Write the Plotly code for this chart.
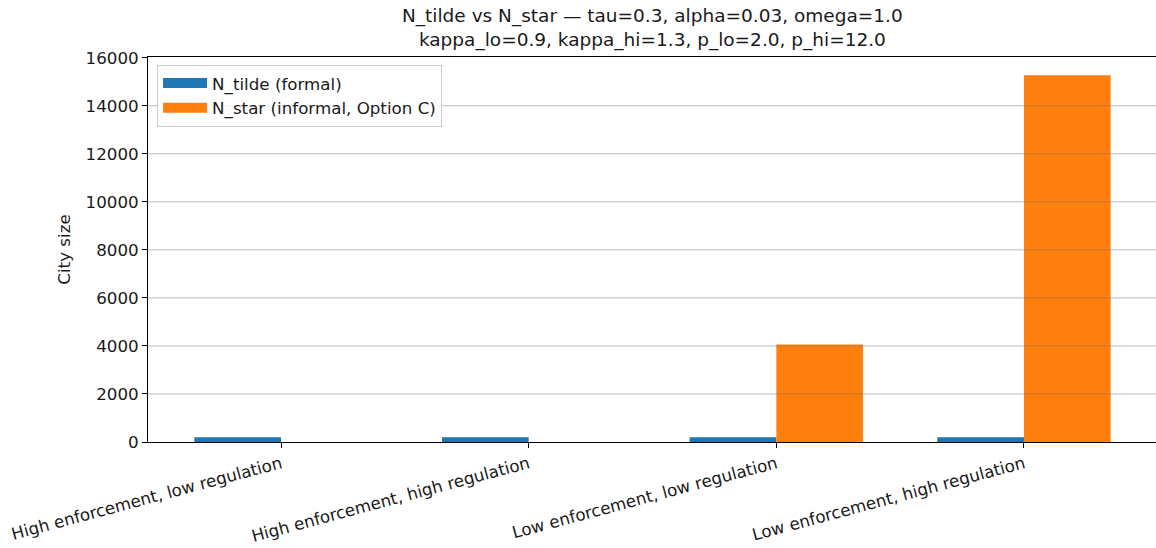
import plotly.graph_objects as go

# Scenario categories and city sizes
categories = [
    "High enforcement, low regulation",
    "High enforcement, high regulation",
    "Low enforcement, low regulation",
    "Low enforcement, high regulation",
]
n_tilde = [195, 195, 195, 195]
n_star = [0, 0, 4060, 15270]
y_ticks = [0, 2000, 4000, 6000, 8000, 10000, 12000, 14000, 16000]

FONT = "DejaVu Sans"
FS = 16.7
TXT = "#1a1a1a"
BLUE = "#1f77b4"
ORANGE = "#ff7f0e"
x_pos = list(range(len(categories)))

fig = go.Figure()
fig.add_trace(go.Bar(x=x_pos, y=n_tilde, name="N_tilde (formal)", showlegend=False,
                     marker=dict(color=BLUE, line=dict(width=0))))
fig.add_trace(go.Bar(x=x_pos, y=n_star, name="N_star (informal, Option C)", showlegend=False,
                     marker=dict(color=ORANGE, line=dict(width=0))))

# rectangular legend keys
for name, color in [("N_tilde (formal)", BLUE), ("N_star (informal, Option C)", ORANGE)]:
    fig.add_trace(go.Scatter(x=[None], y=[None], mode="lines", name=name,
                             line=dict(color=color, width=11), showlegend=True))

# horizontal grid drawn over the bars
for v in y_ticks[1:-1]:
    fig.add_shape(type="line", xref="paper", yref="y", x0=0, x1=1, y0=v, y1=v,
                  line=dict(color="rgba(110,110,110,0.45)", width=1), layer="above")

# two-line title
fig.add_annotation(
    text="N_tilde vs N_star — tau=0.3, alpha=0.03, omega=1.0<br>"
         "kappa_lo=0.9, kappa_hi=1.3, p_lo=2.0, p_hi=12.0",
    xref="paper", yref="paper", x=0.5, y=1, xanchor="center", yanchor="bottom",
    yshift=4, showarrow=False, align="center",
    font=dict(family=FONT, size=18.5, color=TXT),
)

fig.update_layout(
    width=1156, height=548,
    margin=dict(l=148, r=0, t=57, b=106),
    paper_bgcolor="white", plot_bgcolor="white",
    barmode="group", bargap=0.3, bargroupgap=0,
    font=dict(family=FONT, size=FS, color=TXT),
    legend=dict(
        x=0.009, y=0.98, xanchor="left", yanchor="top",
        bgcolor="rgba(255,255,255,0.8)", bordercolor="#cccccc", borderwidth=1,
        font=dict(family=FONT, size=FS, color=TXT),
        tracegroupgap=0, itemwidth=44,
    ),
    showlegend=True,
)

fig.update_xaxes(
    range=[-0.537, 3.533],
    tickmode="array", tickvals=x_pos, ticktext=categories,
    tickangle=-15,
    ticks="outside", ticklen=5, tickcolor="black",
    showline=True, linecolor="black", linewidth=1, mirror=True,
    showgrid=False, zeroline=False,
    tickfont=dict(family=FONT, size=FS, color=TXT),
)
fig.update_yaxes(
    range=[0, 16030],
    tickmode="array", tickvals=y_ticks, ticktext=[str(v) for v in y_ticks],
    ticks="outside", ticklen=5, tickcolor="black",
    showline=True, linecolor="black", linewidth=1,
    showgrid=False, zeroline=False,
    title=dict(text="City size", font=dict(family=FONT, size=FS, color=TXT), standoff=10),
    tickfont=dict(family=FONT, size=FS, color=TXT),
)

fig.write_html("out.html")
